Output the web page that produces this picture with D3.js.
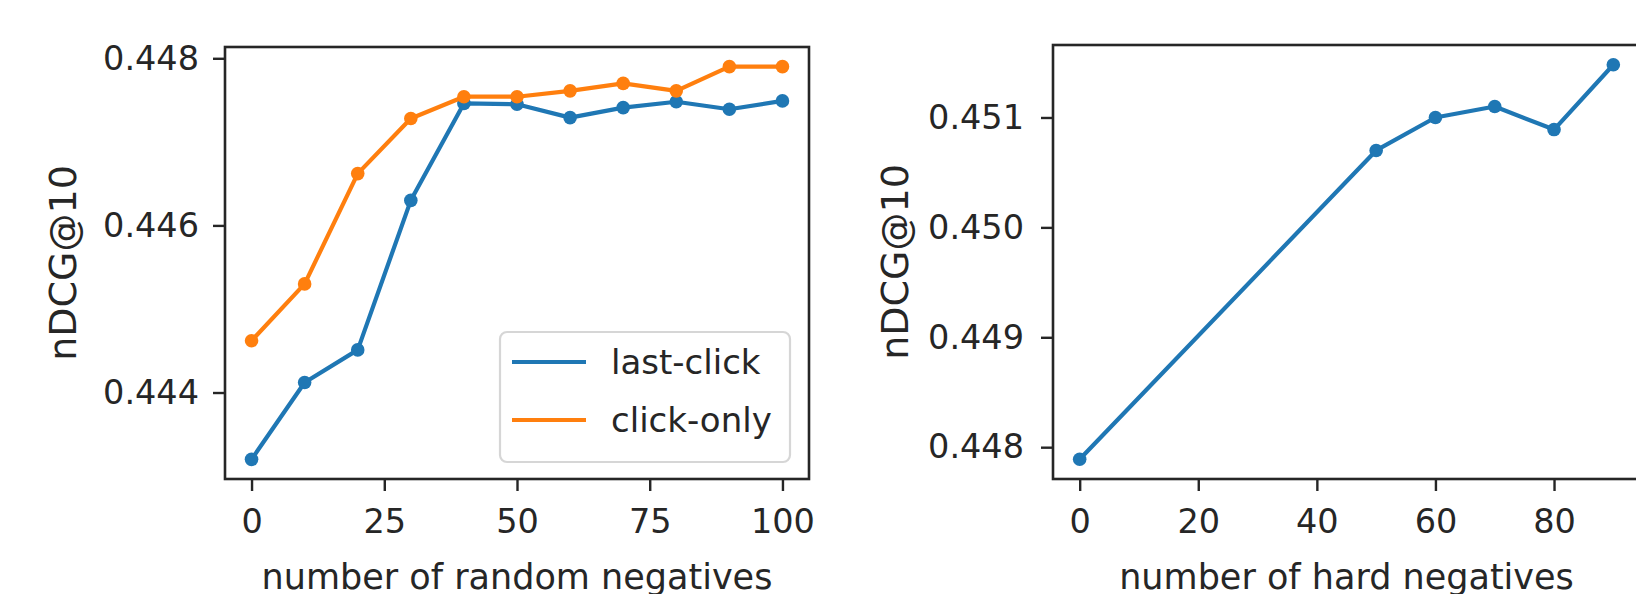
<!DOCTYPE html>
<html>
<head>
<meta charset="utf-8">
<script src="https://cdn.jsdelivr.net/npm/d3@7"></script>
<style>
  html, body { margin: 0; padding: 0; background: #fff; }
  svg { display: block; }
  text { font-family: "DejaVu Sans", sans-serif; fill: #262626; }
</style>
</head>
<body>
<svg id="chart" width="1636" height="594"></svg>
<script>
// ---- data ----
const randomNegatives = [0, 10, 20, 30, 40, 50, 60, 70, 80, 90, 100];
const lastClick = [0.4432, 0.44412, 0.44451, 0.4463, 0.44746, 0.44745, 0.44729, 0.44741, 0.44748, 0.44739, 0.44749];
const clickOnly = [0.44462, 0.4453, 0.44662, 0.44728, 0.44754, 0.44754, 0.44761, 0.4477, 0.44761, 0.4479, 0.4479];
const hardNegatives = [0, 50, 60, 70, 80, 90];
const hardValues = [0.44789, 0.4507, 0.451, 0.4511, 0.45089, 0.45148];
const leftXTicks = [0, 25, 50, 75, 100];
const leftYTicks = [0.444, 0.446, 0.448];
const rightXTicks = [0, 20, 40, 60, 80];
const rightYTicks = [0.448, 0.449, 0.450, 0.451];
const seriesNames = ["last-click", "click-only"];
const yLabel = "nDCG@10";
const leftXLabel = "number of random negatives";
const rightXLabel = "number of hard negatives";

const BLUE = "#1f77b4", ORANGE = "#ff7f0e";
const TICK_FS = 33.5, XLABEL_FS = 35, YLABEL_FS = 38, LEGEND_FS = 34;
const svg = d3.select("#chart");

function padded(vals) {
  const mn = d3.min(vals), mx = d3.max(vals), p = (mx - mn) * 0.05;
  return [mn - p, mx + p];
}

function panel(opts) {
  const { x0, x1, y0, y1, xDomain, yDomain, xTicks, yTicks, yFmt, xLabel, series, ylabX, yPad } = opts;
  const g = svg.append("g");
  const x = d3.scaleLinear().domain(xDomain).range([x0, x1]);
  const y = d3.scaleLinear().domain(yDomain).range([y1, y0]);

  // series
  series.forEach(s => {
    const pts = s.xs.map((v, i) => [v, s.ys[i]]);
    g.append("path").datum(pts)
      .attr("fill", "none").attr("stroke", s.color).attr("stroke-width", 4.2)
      .attr("stroke-linejoin", "round")
      .attr("d", d3.line().x(d => x(d[0])).y(d => y(d[1])));
    g.selectAll(null).data(pts).enter().append("circle")
      .attr("cx", d => x(d[0])).attr("cy", d => y(d[1])).attr("r", 6.8)
      .attr("fill", s.color);
  });

  // axes
  const xAxis = d3.axisBottom(x).tickValues(xTicks).tickSize(12).tickPadding(18).tickFormat(d3.format("d"));
  const yAxis = d3.axisLeft(y).tickValues(yTicks).tickSize(12).tickPadding(yPad).tickFormat(yFmt);
  const gx = g.append("g").attr("transform", `translate(0,${y1})`).call(xAxis);
  const gy = g.append("g").attr("transform", `translate(${x0},0)`).call(yAxis);
  [gx, gy].forEach(a => {
    a.select(".domain").remove();
    a.selectAll(".tick line").attr("stroke", "#262626").attr("stroke-width", 2.4);
    a.selectAll(".tick text").attr("font-size", TICK_FS).attr("font-family", "DejaVu Sans").attr("fill", "#262626");
  });

  // frame
  g.append("rect").attr("x", x0).attr("y", y0).attr("width", x1 - x0).attr("height", y1 - y0)
    .attr("fill", "none").attr("stroke", "#262626").attr("stroke-width", 2.6);

  // labels
  g.append("text").attr("x", (x0 + x1) / 2).attr("y", 589).attr("text-anchor", "middle")
    .attr("font-size", XLABEL_FS).text(xLabel);
  g.append("text").attr("transform", `translate(${ylabX},${(y0 + y1) / 2}) rotate(-90)`)
    .attr("text-anchor", "middle").attr("font-size", YLABEL_FS).text(yLabel);
  return { g, x, y };
}

// left panel
const L = panel({
  x0: 225, x1: 809, y0: 47, y1: 479,
  xDomain: padded(randomNegatives), yDomain: padded(lastClick.concat(clickOnly)),
  xTicks: leftXTicks, yTicks: leftYTicks, yFmt: d3.format(".3f"),
  xLabel: leftXLabel, ylabX: 76, yPad: 14,
  series: [
    { xs: randomNegatives, ys: lastClick, color: BLUE },
    { xs: randomNegatives, ys: clickOnly, color: ORANGE }
  ]
});

// legend
const lg = L.g.append("g");
lg.append("rect").attr("x", 500).attr("y", 332).attr("width", 290).attr("height", 130)
  .attr("rx", 7).attr("fill", "#fff").attr("fill-opacity", 0.8)
  .attr("stroke", "#d6d6d6").attr("stroke-width", 2.2);
[BLUE, ORANGE].forEach((c, i) => {
  const cy = 362 + i * 58;
  lg.append("line").attr("x1", 512).attr("x2", 586).attr("y1", cy).attr("y2", cy)
    .attr("stroke", c).attr("stroke-width", 4.2);
  lg.append("text").attr("x", 611).attr("y", cy + 12).attr("font-size", LEGEND_FS).text(seriesNames[i]);
});

// right panel
panel({
  x0: 1053, x1: 1640, y0: 45, y1: 479,
  xDomain: padded(hardNegatives), yDomain: padded(hardValues),
  xTicks: rightXTicks, yTicks: rightYTicks, yFmt: d3.format(".3f"),
  xLabel: rightXLabel, ylabX: 908, yPad: 17,
  series: [{ xs: hardNegatives, ys: hardValues, color: BLUE }]
});
</script>
</body>
</html>
